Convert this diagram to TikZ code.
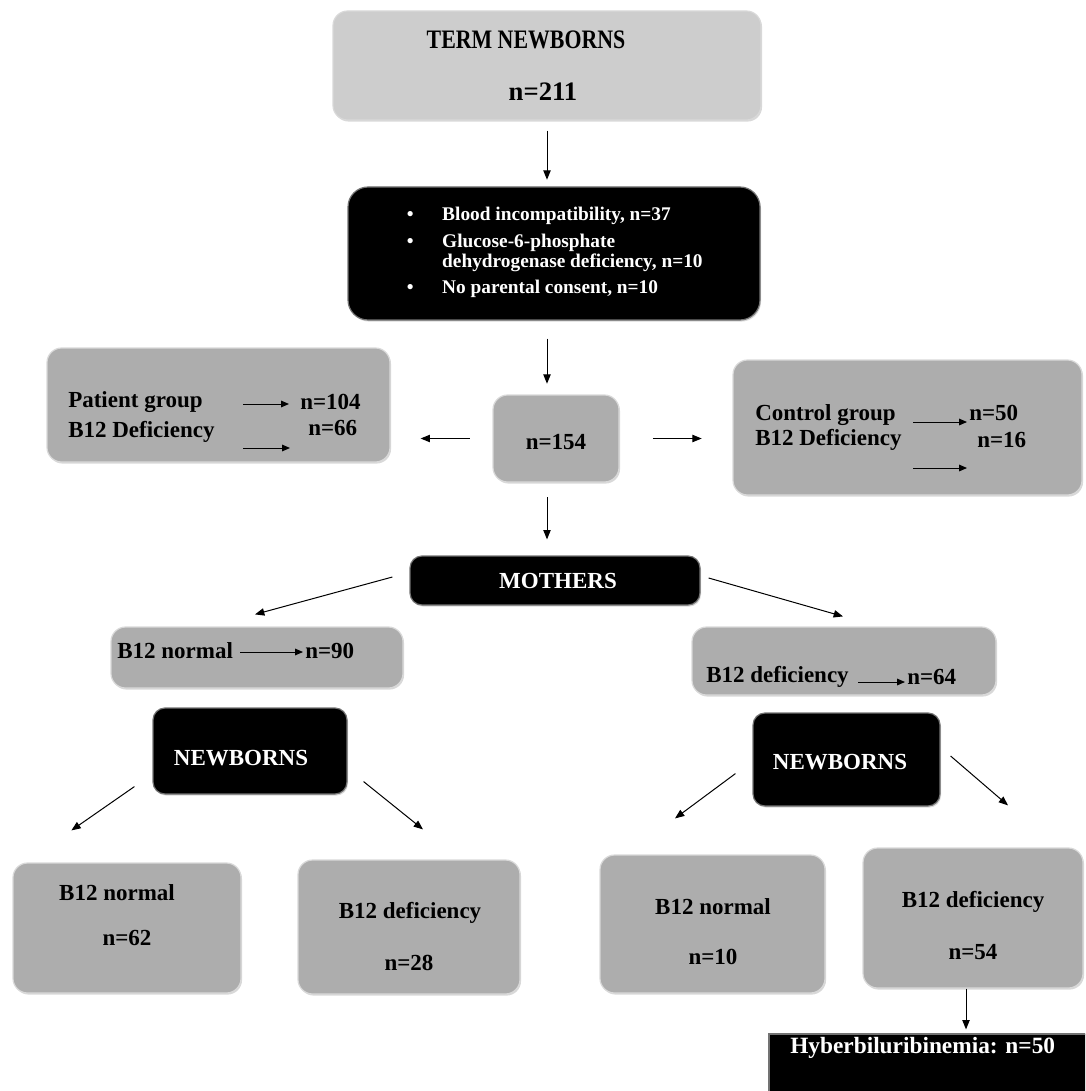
\documentclass[tikz,border=0pt]{standalone}
\usepackage{fontspec}
\setmainfont{Liberation Serif}
\usetikzlibrary{arrows.meta,positioning,calc,shadows}
\newlength\pxu
\setlength\pxu{0.75pt}
\definecolor{boxgray}{HTML}{ADADAD}
\definecolor{lightbox}{HTML}{CDCDCD}
\tikzset{
  graybox/.style={rectangle, rounded corners=11pt, fill=boxgray, draw=black!15, line width=0.9pt,
    drop shadow={shadow xshift=0.8pt, shadow yshift=-1.2pt, opacity=0.3}},
  blackbox/.style={rectangle, rounded corners=9pt, fill=black, draw=black!55, line width=0.9pt,
    drop shadow={shadow xshift=0.8pt, shadow yshift=-1.2pt, opacity=0.3}},
  txt/.style={font=\bfseries\fontsize{17.25}{20}\selectfont, inner sep=0pt},
  wtxt/.style={txt, text=white},
  arr/.style={-{Triangle[length=7pt,width=5.5pt]}, line width=0.75pt},
  sarr/.style={-{Triangle[length=6pt,width=5pt]}, line width=0.75pt},
}
\begin{document}
\begin{tikzpicture}[x=0.75pt, y=-0.75pt]
\path[use as bounding box, clip] (0,0) rectangle (1085,1091);
% Top box
\node[graybox, fill=lightbox, minimum width=428\pxu, minimum height=109\pxu] (term) at (547,65.5) {};
\node[txt, font=\bfseries\fontsize{20}{24}\selectfont] (terma) at (526,40) {\scalebox{0.82}[1]{TERM NEWBORNS}};
\node[txt, font=\bfseries\fontsize{20}{24}\selectfont] (termb) at (543,92) {n=211};
% Exclusions
\node[blackbox, rounded corners=15pt, minimum width=412\pxu, minimum height=133\pxu] (excl) at (554,253.5) {};
\node[wtxt, font=\bfseries\fontsize{14.5}{15}\selectfont, align=left, anchor=west] (excla) at (406.5,252)
  {\makebox[26.6pt][l]{\textbullet}Blood incompatibility, n=37\\[5.25pt]
   \makebox[26.6pt][l]{\textbullet}Glucose-6-phosphate\\
   \hspace*{26.6pt}dehydrogenase deficiency, n=10\\[4.5pt]
   \makebox[26.6pt][l]{\textbullet}No parental consent, n=10};
% Included
\node[graybox, minimum width=126\pxu, minimum height=87\pxu] (total) at (556,438.5) {};
\node[txt] (totala) at (556,442) {n=154};
% Patient group
\node[graybox, minimum width=343\pxu, minimum height=114\pxu] (patient) at (218.5,405) {};
\node[txt, anchor=west] (pata) at (68,402) {Patient group};
\node[txt, anchor=west] (patb) at (300,402) {n=104};
\node[txt, anchor=west] (patc) at (68,432) {B12 Deficiency};
\node[txt, anchor=west] (patd) at (308,428) {n=66};
\coordinate (pat1s) at (243,404); \coordinate (pat1e) at (289,404);
\coordinate (pat2s) at (243,448); \coordinate (pat2e) at (290,448);
\draw[sarr] (pat1s) -- (pat1e);
\draw[sarr] (pat2s) -- (pat2e);
% Control group
\node[graybox, minimum width=349\pxu, minimum height=135\pxu] (control) at (907.5,427.5) {};
\node[txt, anchor=west] (cona) at (755,415) {Control group};
\node[txt, anchor=west] (conb) at (969,413) {n=50};
\node[txt, anchor=west] (conc) at (755,440) {B12 Deficiency};
\node[txt, anchor=west] (cond) at (977,440) {n=16};
\coordinate (con1s) at (913,422); \coordinate (con1e) at (967,422);
\coordinate (con2s) at (913,468); \coordinate (con2e) at (967,468);
\draw[sarr] (con1s) -- (con1e);
\draw[sarr] (con2s) -- (con2e);
% Mothers
\node[blackbox, minimum width=290\pxu, minimum height=49\pxu] (mothers) at (555,580.5) {};
\node[wtxt] (mothersa) at (558,581) {MOTHERS};
\node[graybox, minimum width=292\pxu, minimum height=61\pxu] (mnorm) at (257,657.5) {};
\node[txt, anchor=west] (mnorma) at (117,651) {B12 normal};
\node[txt, anchor=west] (mnormb) at (305,651) {n=90};
\coordinate (mn1s) at (240,652); \coordinate (mn1e) at (303,652);
\draw[sarr] (mn1s) -- (mn1e);
\node[graybox, minimum width=304\pxu, minimum height=68\pxu] (mdef) at (844,661) {};
\node[txt, anchor=west] (mdefa) at (706,677) {B12 deficiency};
\node[txt, anchor=west] (mdefb) at (907,677) {n=64};
\coordinate (md1s) at (858,682); \coordinate (md1e) at (905,682);
\draw[sarr] (md1s) -- (md1e);
% Newborns
\node[blackbox, minimum width=194\pxu, minimum height=86\pxu] (nbl) at (250,751) {};
\node[wtxt] (nbla) at (241,758) {NEWBORNS};
\node[blackbox, minimum width=187\pxu, minimum height=93\pxu] (nbr) at (846.5,759.5) {};
\node[wtxt] (nbra) at (840,762) {NEWBORNS};
% Bottom row
\node[graybox, minimum width=228\pxu, minimum height=130\pxu] (bn62) at (127,928) {};
\node[txt] (bn62a) at (117,893) {B12 normal};
\node[txt] (bn62b) at (127,938) {n=62};
\node[graybox, minimum width=222\pxu, minimum height=134\pxu] (bd28) at (409,927) {};
\node[txt] (bd28a) at (410,913) {B12 deficiency};
\node[txt] (bd28b) at (409,963) {n=28};
\node[graybox, minimum width=225\pxu, minimum height=138\pxu] (bn10) at (712.5,924) {};
\node[txt] (bn10a) at (713,907) {B12 normal};
\node[txt] (bn10b) at (713,957) {n=10};
\node[graybox, minimum width=220\pxu, minimum height=140\pxu] (bd54) at (973,918) {};
\node[txt] (bd54a) at (973,902) {B12 deficiency};
\node[txt] (bd54b) at (973,952) {n=54};
% Outcome
\node[rectangle, fill=black, draw=black!55, line width=0.9pt, minimum width=331\pxu, minimum height=76\pxu] (hyper) at (934.5,1072) {};
\node[wtxt, font=\bfseries\fontsize{17.5}{20}\selectfont, anchor=west] (hypera) at (790,1048) {Hyberbiluribinemia: n=50};
% Connectors
\draw[arr, shorten <=7.5pt, shorten >=5pt] (term.south) -- (term.south |- excl.north);
\draw[arr, shorten <=13.5pt, shorten >=8pt] (term.south |- excl.south) -- (term.south |- total.north);
\draw[arr, shorten <=11pt, shorten >=12pt] (term.south |- total.south) -- (term.south |- mothers.north);
\draw[arr, shorten <=17pt, shorten >=22.5pt] (total.west) -- (total.west -| patient.east);
\draw[arr, shorten <=25pt, shorten >=23pt] (total.east) -- (total.east -| control.west);
\draw[arr] ($(mothers.west)+(-17,-3.5)$) -- ($(mnorm.north)+(-2,-12)$);
\draw[arr] ($(mothers.east)+(8,-2.5)$) -- ($(mdef.north)+(-1,-10)$);
\draw[arr] ($(nbl.south west)+(-18,-8)$) -- ($(bn62.north west)+(59,-32)$);
\draw[arr] ($(nbl.south east)+(16,-13)$) -- ($(bd28.north)+(14,-30)$);
\draw[arr] ($(nbr.south west)+(-17,-33)$) -- ($(bn10.north)+(-37.5,-36)$);
\draw[arr] ($(nbr.east)+(10,-3.5)$) -- ($(bd54.north)+(35,-42)$);
\coordinate (bd54out) at ($(bd54.south)+(-7,0)$);
\draw[arr, shorten >=3pt] (bd54out) -- (bd54out |- hyper.north);
\end{tikzpicture}
\end{document}
